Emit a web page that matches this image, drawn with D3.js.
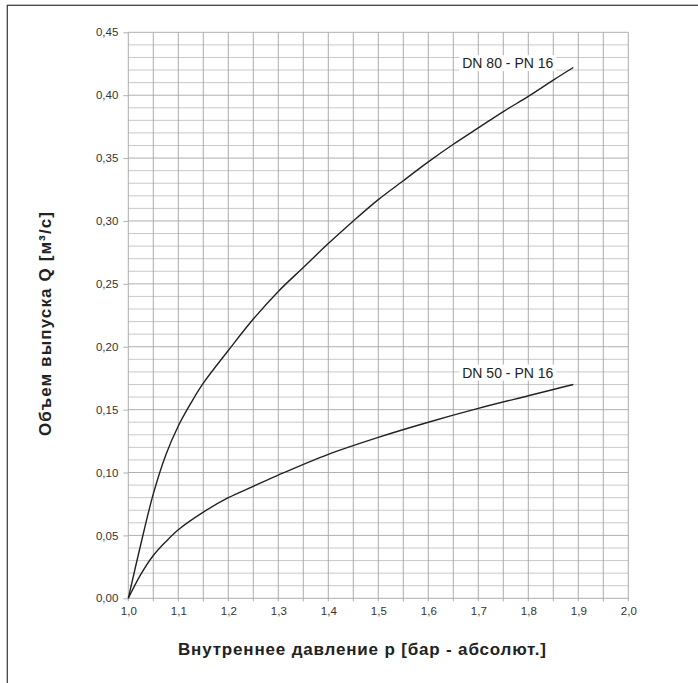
<!DOCTYPE html>
<html>
<head>
<meta charset="utf-8">
<script src="https://cdn.jsdelivr.net/npm/d3@7"></script>
<style>
  body { margin: 0; background: #fff; }
  text { font-family: "Liberation Sans", Arial, sans-serif; }
</style>
</head>
<body>
<div class="canva"></div>
<script>
// values
const pressure80 = [1.0, 1.025, 1.05, 1.075, 1.10, 1.125, 1.15, 1.20, 1.25, 1.30, 1.35, 1.40, 1.45, 1.50, 1.55, 1.60, 1.65, 1.70, 1.75, 1.80, 1.85, 1.89];
const flow80 = [0, 0.043, 0.083, 0.114, 0.137, 0.155, 0.171, 0.197, 0.222, 0.244, 0.263, 0.282, 0.300, 0.317, 0.332, 0.347, 0.361, 0.374, 0.387, 0.399, 0.412, 0.422];

const pressure50 = [1.0, 1.025, 1.05, 1.075, 1.10, 1.15, 1.20, 1.25, 1.30, 1.40, 1.50, 1.60, 1.70, 1.80, 1.85, 1.89];
const flow50 = [0, 0.019, 0.034, 0.045, 0.0545, 0.0685, 0.080, 0.089, 0.098, 0.1145, 0.128, 0.140, 0.151, 0.161, 0.166, 0.170];

const seriesNames = ['DN 80 - PN 16', 'DN 50 - PN 16'];

const xTicks = [1.0, 1.1, 1.2, 1.3, 1.4, 1.5, 1.6, 1.7, 1.8, 1.9, 2.0];
const yTicks = [0, 0.05, 0.10, 0.15, 0.20, 0.25, 0.30, 0.35, 0.40, 0.45];

const xTitle = 'Внутреннее давление p [бар - абсолют.]';
const yTitle = 'Объем выпуска Q [м³/с]';

const width = 698, height = 683;
const margin = {top: 32.3, right: 69.7, bottom: 84.7, left: 128.3};
const graphWidth = width - margin.left - margin.right;
const graphHeight = height - margin.top - margin.bottom;

const svg = d3.select('.canva').append('svg')
    .attr('width', width)
    .attr('height', height);

// frame around the whole figure (right / bottom fall outside the crop)
svg.append('rect')
    .attr('x', 7.3).attr('y', 5.3)
    .attr('width', width + 20).attr('height', height + 20)
    .attr('fill', 'none')
    .attr('stroke', '#444')
    .attr('stroke-width', 1.3);

const g = svg.append('g')
    .attr('transform', `translate(${margin.left},${margin.top})`);

const x = d3.scaleLinear().domain([1.0, 2.0]).range([0, graphWidth]);
const y = d3.scaleLinear().domain([0, 0.45]).range([graphHeight, 0]);

// horizontal grid every 0.01
const hLines = d3.range(0, 46).map(i => i / 100);
g.append('g')
    .selectAll('line')
    .data(hLines)
    .enter().append('line')
    .attr('x1', 0).attr('x2', graphWidth)
    .attr('y1', d => y(d)).attr('y2', d => y(d))
    .attr('stroke', (d, i) => i % 5 === 0 ? '#b0b0b0' : '#cacaca')
    .attr('stroke-width', 1);

// vertical grid every 0.05
const vLines = d3.range(0, 21).map(i => 1 + i * 0.05);
g.append('g')
    .selectAll('line')
    .data(vLines)
    .enter().append('line')
    .attr('x1', d => x(d)).attr('x2', d => x(d))
    .attr('y1', 0).attr('y2', graphHeight + 3)
    .attr('stroke', '#a4a4a4')
    .attr('stroke-width', 0.9);

// axes
const yAxis = d3.axisLeft(y)
    .tickValues(yTicks)
    .tickSize(5)
    .tickPadding(5)
    .tickFormat(d => d3.format('.2f')(d).replace('.', ','));

const xAxis = d3.axisBottom(x)
    .tickValues(xTicks)
    .tickSize(0)
    .tickPadding(9)
    .tickFormat(d => d3.format('.1f')(d).replace('.', ','));

const ya = g.append('g').call(yAxis);
ya.select('.domain').remove();
ya.selectAll('line').attr('stroke', '#b0b0b0');
ya.selectAll('text').attr('font-size', 11.5).attr('fill', '#333');

const xa = g.append('g')
    .attr('transform', `translate(0,${graphHeight})`)
    .call(xAxis);
xa.select('.domain').remove();
xa.selectAll('text').attr('font-size', 11.5).attr('fill', '#333');

// curves
const line = d3.line()
    .x(d => x(d[0]))
    .y(d => y(d[1]))
    .curve(d3.curveCatmullRom.alpha(0.5));

const curves = [
    pressure80.map((p, i) => [p, flow80[i]]),
    pressure50.map((p, i) => [p, flow50[i]])
];

g.selectAll('.curve')
    .data(curves)
    .enter().append('path')
    .attr('class', 'curve')
    .attr('d', line)
    .attr('fill', 'none')
    .attr('stroke', '#222')
    .attr('stroke-width', 1.4);

// series labels with white background
const labelPos = [
    {name: seriesNames[0], px: 1.85, q: 0.4215},
    {name: seriesNames[1], px: 1.85, q: 0.1755}
];
labelPos.forEach(l => {
    const t = g.append('text')
        .attr('x', x(l.px))
        .attr('y', y(l.q))
        .attr('text-anchor', 'end')
        .attr('font-size', 14)
        .attr('fill', '#222')
        .text(l.name);
    const bb = t.node().getBBox();
    g.insert('rect', function () { return t.node(); })
        .attr('x', bb.x - 3).attr('y', bb.y)
        .attr('width', bb.width + 6).attr('height', bb.height)
        .attr('fill', '#fff');
});

// axis titles
svg.append('text')
    .attr('x', 362)
    .attr('y', 655)
    .attr('text-anchor', 'middle')
    .attr('font-size', 17)
    .attr('font-weight', 'bold')
    .attr('fill', '#222')
    .attr('textLength', 368)
    .text(xTitle);

svg.append('text')
    .attr('transform', 'translate(51,324) rotate(-90)')
    .attr('text-anchor', 'middle')
    .attr('font-size', 17)
    .attr('font-weight', 'bold')
    .attr('fill', '#222')
    .attr('textLength', 224)
    .text(yTitle);
</script>
</body>
</html>
